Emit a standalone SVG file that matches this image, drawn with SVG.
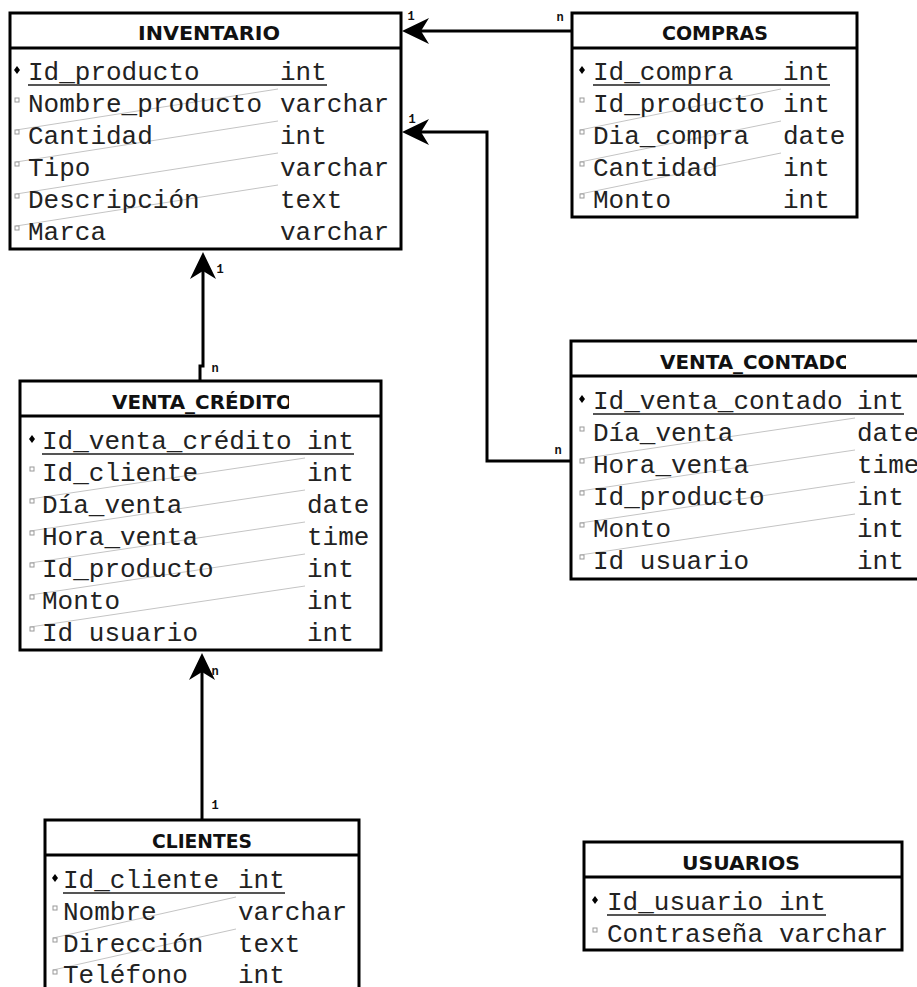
<svg xmlns="http://www.w3.org/2000/svg" width="917" height="987" viewBox="0 0 917 987">
<style>
.bg{fill:#fff}
.box{fill:#fff;stroke:#000;stroke-width:3}
.sep{stroke:#000;stroke-width:3}
.title{font-family:"DejaVu Sans","Liberation Sans",sans-serif;font-weight:bold;font-size:19px;fill:#111}
.f{font-family:"Liberation Mono","Courier New",monospace;font-size:26px;fill:#222}
.ul{stroke:#555;stroke-width:2}
.dg{stroke:#c4c4c4;stroke-width:1}
.pk{fill:#000}
.fk{fill:#fff;stroke:#999;stroke-width:1}
.conn{fill:none;stroke:#000;stroke-width:3}
.card{font-family:"Liberation Mono","Courier New",monospace;font-weight:bold;font-size:12px;fill:#111;text-anchor:middle}
</style>
<defs>
<marker id="arr" markerUnits="userSpaceOnUse" markerWidth="32" markerHeight="32" viewBox="-30 -16 32 32" refX="-10" refY="0" orient="auto">
<path d="M0,0 L-27,-13 L-19,0 L-27,13 Z" fill="#000"/>
</marker>
<clipPath id="cpCred"><rect x="20" y="381" width="269" height="36"/></clipPath>
<clipPath id="cpCont"><rect x="571" y="341" width="275" height="36"/></clipPath>
</defs>
<rect class="bg" x="0" y="0" width="917" height="987"/>

<g id="connectors">
<path class="conn" d="M572,31 H412" marker-end="url(#arr)"/>
<path class="conn" d="M571,461 H487 V132 H412" marker-end="url(#arr)"/>
<path class="conn" d="M200,381 V366 H203 V262" marker-end="url(#arr)"/>
<path class="conn" d="M202,820 V663" marker-end="url(#arr)"/>
<text class="card" x="411" y="20">1</text>
<text class="card" x="560" y="21">n</text>
<text class="card" x="412" y="123">1</text>
<text class="card" x="558" y="454">n</text>
<text class="card" x="220" y="273">1</text>
<text class="card" x="215" y="372">n</text>
<text class="card" x="215" y="675">n</text>
<text class="card" x="215" y="809">1</text>
</g>

<g id="inventario">
<rect class="box" x="10" y="13" width="391" height="236"/>
<line class="sep" x1="10" y1="48" x2="401" y2="48"/>
<text class="title" x="138" y="40" textLength="142" lengthAdjust="spacingAndGlyphs">INVENTARIO</text>
<line class="dg" x1="278" y1="89" x2="16" y2="130"/>
<line class="dg" x1="278" y1="121" x2="16" y2="162"/>
<line class="dg" x1="278" y1="153" x2="16" y2="194"/>
<line class="dg" x1="278" y1="185" x2="16" y2="226"/>
<polygon class="pk" points="17,66 20,70 17,74 14,70"/>
<rect class="fk" x="15" y="98" width="4" height="4"/>
<rect class="fk" x="15" y="130" width="4" height="4"/>
<rect class="fk" x="15" y="162" width="4" height="4"/>
<rect class="fk" x="15" y="194" width="4" height="4"/>
<rect class="fk" x="15" y="226" width="4" height="4"/>
<text class="f" x="28" y="80">Id_producto</text><text class="f" x="280" y="80">int</text>
<line class="ul" x1="28" y1="85" x2="327" y2="85"/>
<text class="f" x="28" y="112">Nombre_producto</text><text class="f" x="280" y="112">varchar</text>
<text class="f" x="28" y="144">Cantidad</text><text class="f" x="280" y="144">int</text>
<text class="f" x="28" y="176">Tipo</text><text class="f" x="280" y="176">varchar</text>
<text class="f" x="28" y="208">Descripción</text><text class="f" x="280" y="208">text</text>
<text class="f" x="28" y="240">Marca</text><text class="f" x="280" y="240">varchar</text>
</g>

<g id="compras">
<rect class="box" x="572" y="13" width="285" height="204"/>
<line class="sep" x1="572" y1="48" x2="857" y2="48"/>
<text class="title" x="662" y="40" textLength="106" lengthAdjust="spacingAndGlyphs">COMPRAS</text>
<line class="dg" x1="781" y1="89" x2="580" y2="130"/>
<line class="dg" x1="781" y1="121" x2="580" y2="162"/>
<line class="dg" x1="781" y1="153" x2="580" y2="194"/>
<polygon class="pk" points="582,66 585,70 582,74 579,70"/>
<rect class="fk" x="580" y="98" width="4" height="4"/>
<rect class="fk" x="580" y="130" width="4" height="4"/>
<rect class="fk" x="580" y="162" width="4" height="4"/>
<rect class="fk" x="580" y="194" width="4" height="4"/>
<text class="f" x="593" y="80">Id_compra</text><text class="f" x="783" y="80">int</text>
<line class="ul" x1="593" y1="85" x2="830" y2="85"/>
<text class="f" x="593" y="112">Id_producto</text><text class="f" x="783" y="112">int</text>
<text class="f" x="593" y="144">Dia_compra</text><text class="f" x="783" y="144">date</text>
<text class="f" x="593" y="176">Cantidad</text><text class="f" x="783" y="176">int</text>
<text class="f" x="593" y="208">Monto</text><text class="f" x="783" y="208">int</text>
</g>

<g id="venta_contado">
<rect class="box" x="571" y="341" width="360" height="238"/>
<line class="sep" x1="571" y1="376" x2="931" y2="376"/>
<text class="title" x="660" y="369" textLength="192" lengthAdjust="spacingAndGlyphs" clip-path="url(#cpCont)">VENTA_CONTADO</text>
<line class="dg" x1="855" y1="418" x2="580" y2="459"/>
<line class="dg" x1="855" y1="450" x2="580" y2="491"/>
<line class="dg" x1="855" y1="482" x2="580" y2="523"/>
<line class="dg" x1="855" y1="514" x2="580" y2="555"/>
<polygon class="pk" points="582,395 585,399 582,403 579,399"/>
<rect class="fk" x="580" y="427" width="4" height="4"/>
<rect class="fk" x="580" y="459" width="4" height="4"/>
<rect class="fk" x="580" y="491" width="4" height="4"/>
<rect class="fk" x="580" y="523" width="4" height="4"/>
<rect class="fk" x="580" y="555" width="4" height="4"/>
<text class="f" x="593" y="409">Id_venta_contado</text><text class="f" x="857" y="409">int</text>
<line class="ul" x1="593" y1="414" x2="904" y2="414"/>
<text class="f" x="593" y="441">Día_venta</text><text class="f" x="857" y="441">date</text>
<text class="f" x="593" y="473">Hora_venta</text><text class="f" x="857" y="473">time</text>
<text class="f" x="593" y="505">Id_producto</text><text class="f" x="857" y="505">int</text>
<text class="f" x="593" y="537">Monto</text><text class="f" x="857" y="537">int</text>
<text class="f" x="593" y="569">Id usuario</text><text class="f" x="857" y="569">int</text>
</g>

<g id="venta_credito">
<rect class="box" x="20" y="381" width="361" height="269"/>
<line class="sep" x1="20" y1="416" x2="381" y2="416"/>
<text class="title" x="112" y="409" textLength="181" lengthAdjust="spacingAndGlyphs" clip-path="url(#cpCred)">VENTA_CRÉDITO</text>
<line class="dg" x1="305" y1="458" x2="30" y2="499"/>
<line class="dg" x1="305" y1="490" x2="30" y2="531"/>
<line class="dg" x1="305" y1="522" x2="30" y2="563"/>
<line class="dg" x1="305" y1="554" x2="30" y2="595"/>
<line class="dg" x1="305" y1="586" x2="30" y2="627"/>
<polygon class="pk" points="32,435 35,439 32,443 29,439"/>
<rect class="fk" x="30" y="467" width="4" height="4"/>
<rect class="fk" x="30" y="499" width="4" height="4"/>
<rect class="fk" x="30" y="531" width="4" height="4"/>
<rect class="fk" x="30" y="563" width="4" height="4"/>
<rect class="fk" x="30" y="595" width="4" height="4"/>
<rect class="fk" x="30" y="627" width="4" height="4"/>
<text class="f" x="42" y="449">Id_venta_crédito</text><text class="f" x="307" y="449">int</text>
<line class="ul" x1="42" y1="454" x2="354" y2="454"/>
<text class="f" x="42" y="481">Id_cliente</text><text class="f" x="307" y="481">int</text>
<text class="f" x="42" y="513">Día_venta</text><text class="f" x="307" y="513">date</text>
<text class="f" x="42" y="545">Hora_venta</text><text class="f" x="307" y="545">time</text>
<text class="f" x="42" y="577">Id_producto</text><text class="f" x="307" y="577">int</text>
<text class="f" x="42" y="609">Monto</text><text class="f" x="307" y="609">int</text>
<text class="f" x="42" y="641">Id usuario</text><text class="f" x="307" y="641">int</text>
</g>

<g id="clientes">
<rect class="box" x="45" y="820" width="314" height="190"/>
<line class="sep" x1="45" y1="855" x2="359" y2="855"/>
<text class="title" x="152" y="848" textLength="100" lengthAdjust="spacingAndGlyphs">CLIENTES</text>
<line class="dg" x1="236" y1="897" x2="53" y2="938"/>
<line class="dg" x1="236" y1="929" x2="53" y2="970"/>
<polygon class="pk" points="55,874 58,878 55,882 52,878"/>
<rect class="fk" x="53" y="906" width="4" height="4"/>
<rect class="fk" x="53" y="938" width="4" height="4"/>
<rect class="fk" x="53" y="970" width="4" height="4"/>
<text class="f" x="63" y="888">Id_cliente</text><text class="f" x="238" y="888">int</text>
<line class="ul" x1="63" y1="893" x2="285" y2="893"/>
<text class="f" x="63" y="920">Nombre</text><text class="f" x="238" y="920">varchar</text>
<text class="f" x="63" y="952">Dirección</text><text class="f" x="238" y="952">text</text>
<text class="f" x="63" y="983">Teléfono</text><text class="f" x="238" y="983">int</text>
</g>

<g id="usuarios">
<rect class="box" x="584" y="842" width="318" height="108"/>
<line class="sep" x1="584" y1="877" x2="902" y2="877"/>
<text class="title" x="682" y="870" textLength="118" lengthAdjust="spacingAndGlyphs">USUARIOS</text>
<polygon class="pk" points="595,896 598,900 595,904 592,900"/>
<rect class="fk" x="593" y="928" width="4" height="4"/>
<text class="f" x="607" y="910">Id_usuario</text><text class="f" x="779" y="910">int</text>
<line class="ul" x1="607" y1="915" x2="826" y2="915"/>
<text class="f" x="607" y="942">Contraseña</text><text class="f" x="779" y="942">varchar</text>
</g>
</svg>
